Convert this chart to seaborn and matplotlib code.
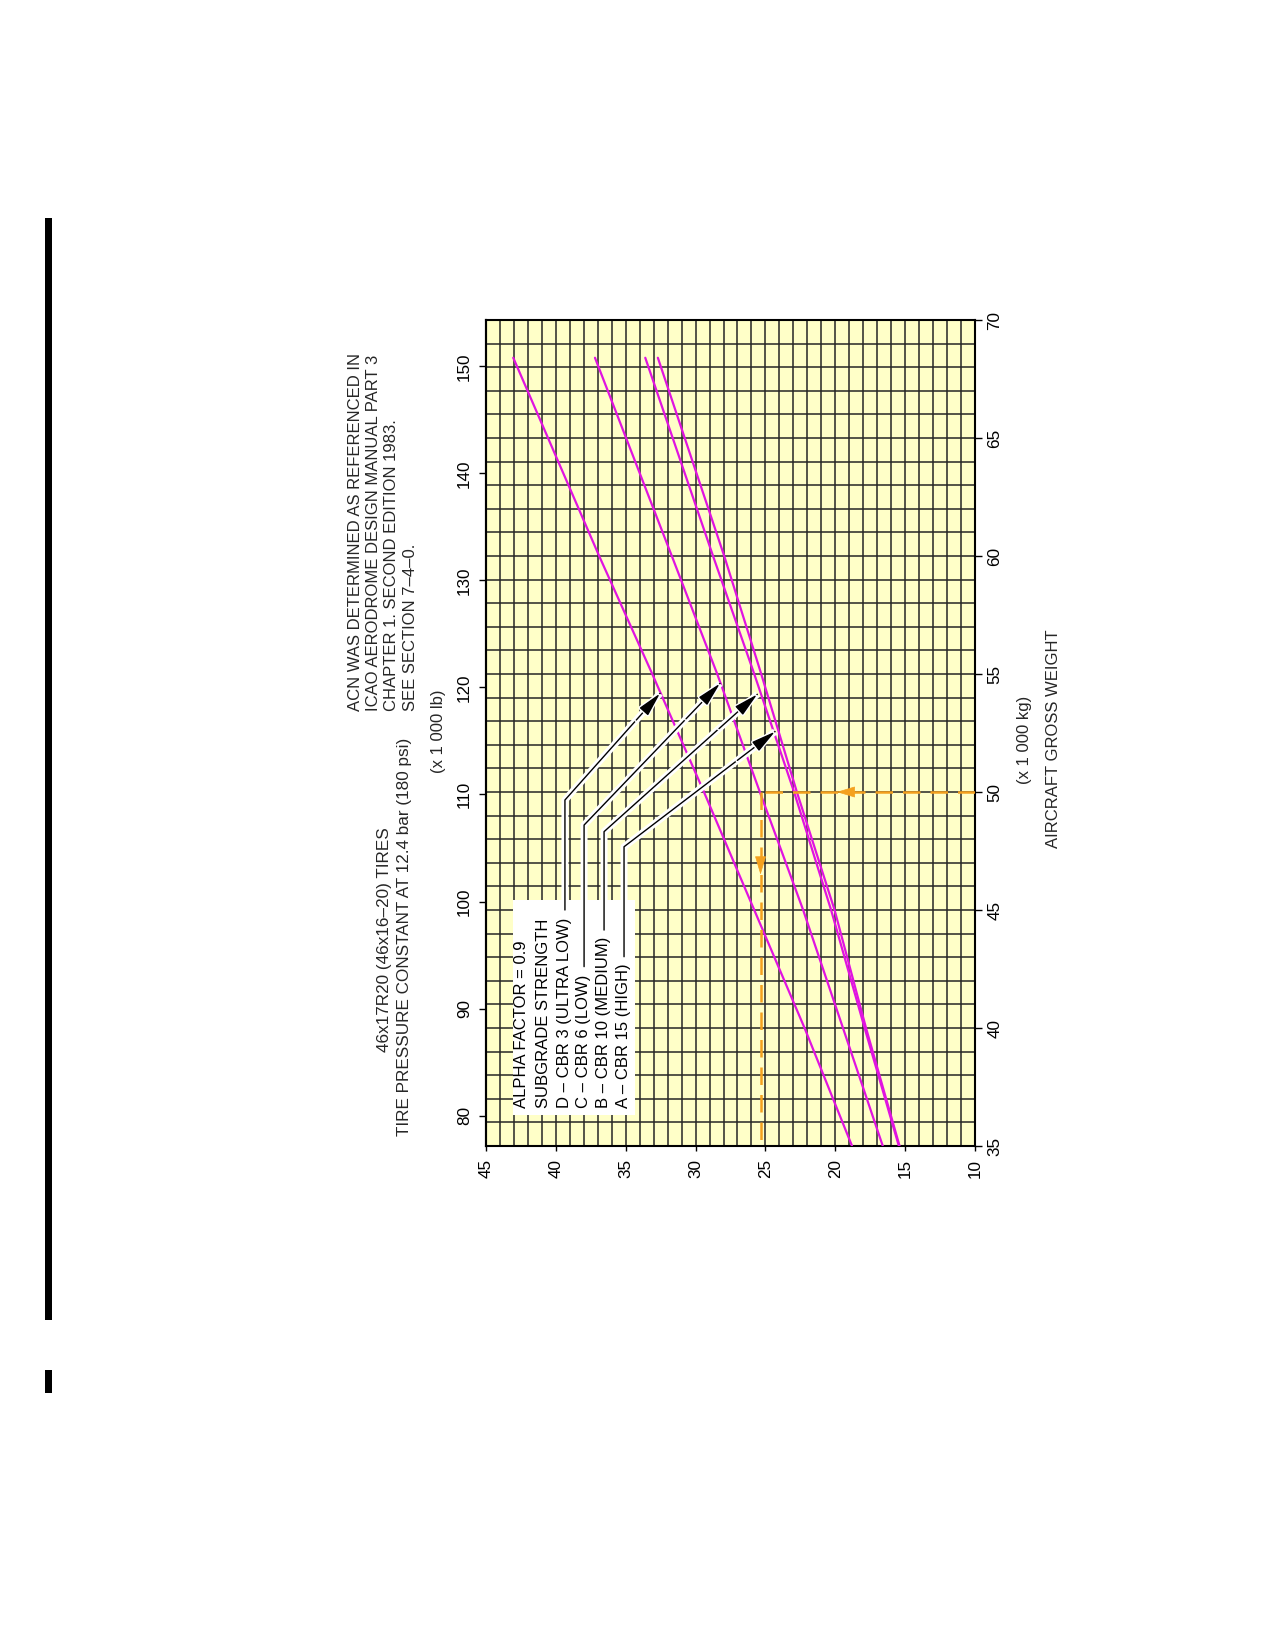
import matplotlib
matplotlib.use("Agg")
import matplotlib.pyplot as plt
import matplotlib.patheffects as pe
from matplotlib.patches import Rectangle
import numpy as np
import pandas as pd
import seaborn as sns

# ---------------- data ----------------
weight_kg = [35, 40, 45, 50, 55, 60, 68.4]          # aircraft gross weight (x 1000 kg)
acn_D = [18.8, 22.2, 25.8, 29.4, 33.1, 36.9, 43.05]  # CBR 3 (ultra low)
acn_C = [16.6, 19.45, 22.3, 25.4, 28.45, 31.7, 37.2] # CBR 6 (low)
acn_B = [15.45, 17.9, 20.3, 22.95, 25.8, 28.75, 33.6]# CBR 10 (medium)
acn_A = [15.4, 17.8, 20.05, 22.75, 25.3, 27.95, 32.7]# CBR 15 (high)
subgrades = ["D", "C", "B", "A"]

acn_ticks = [45, 40, 35, 30, 25, 20, 15, 10]
kg_ticks = [35, 40, 45, 50, 55, 60, 65, 70]
lb_ticks = [80, 90, 100, 110, 120, 130, 140, 150]

example_weight = 50      # orange example
example_acn = 25.35

label_lines = ["ALPHA FACTOR = 0.9", "SUBGRADE STRENGTH",
               "D \u2013 CBR 3 (ULTRA LOW)", "C \u2013 CBR 6 (LOW)",
               "B \u2013 CBR 10 (MEDIUM)", "A \u2013 CBR 15 (HIGH)"]
note_lines = ["ACN WAS DETERMINED AS REFERENCED IN",
              "ICAO AERODROME DESIGN MANUAL PART 3",
              "CHAPTER 1. SECOND EDITION 1983.",
              "SEE SECTION 7\u20134\u20130."]

rows = []
for name, vals in zip(subgrades, [acn_D, acn_C, acn_B, acn_A]):
    for w, a in zip(weight_kg, vals):
        rows.append({"Subgrade": name, "ACN": a, "Weight": w})
df = pd.DataFrame(rows)

# ---------------- style ----------------
sns.set_style("white")
plt.rcParams["font.family"] = ["Liberation Sans", "DejaVu Sans"]

W, H = 1275, 1645
fig = plt.figure(figsize=(W / 100, H / 100), dpi=100)
fig.patch.set_facecolor("white")

def fx(x):
    return x / W

def fy(y):
    return 1 - y / H

ax = fig.add_axes([fx(486), fy(1146), 489 / W, 826 / H])
ax.set_facecolor("#FFFFC8")

MAG = "#E014E0"
sns.lineplot(data=df, x="ACN", y="Weight", hue="Subgrade",
             palette=[MAG] * 4, estimator=None, sort=False, legend=False,
             linewidth=1.6, ax=ax, zorder=3)

ax.set_xlim(45, 10)
ax.set_ylim(35, 70)
ax.set_xlabel("")
ax.set_ylabel("")

ax.set_xticks(acn_ticks)
ax.set_xticks(np.arange(10, 46, 1), minor=True)
ax.set_yticks(kg_ticks)
ax.set_yticks(np.arange(35, 71, 1), minor=True)
ax.grid(which="both", color="#262626", linewidth=1.1, zorder=1)
ax.set_axisbelow(True)
ax.tick_params(which="minor", length=0)
ax.yaxis.tick_right()
ax.tick_params(axis="y", which="major", direction="out", length=5, width=1,
               pad=4, labelsize=12.3, labelrotation=90, colors="black",
               left=False, right=True)
ax.tick_params(axis="x", which="major", direction="out", length=3.6, width=1,
               pad=6, labelsize=12.3, labelrotation=90, colors="black",
               bottom=True)
plt.setp(ax.get_yticklabels(), va="center")
for s in ax.spines.values():
    s.set_color("black")
    s.set_linewidth(1.5)

sec = ax.secondary_yaxis("left", functions=(lambda t: t * 2.20462,
                                            lambda k: k / 2.20462))
sec.set_yticks(lb_ticks)
sec.tick_params(axis="y", direction="out", length=5, width=1, pad=5,
                labelsize=12.3, labelrotation=90, colors="black")
plt.setp(sec.get_yticklabels(), va="center")
sec.spines["left"].set_color("black")
sec.spines["left"].set_linewidth(1.5)

# orange example
ORG = "#F4A11E"
ax.plot([10, example_acn], [example_weight, example_weight], color=ORG,
        lw=1.8, dashes=(7, 4), zorder=4)
ax.plot([example_acn, example_acn], [example_weight, 35], color=ORG,
        lw=1.8, dashes=(7, 4), zorder=4)
ax.annotate("", xy=(19.9, example_weight), xytext=(18.7, example_weight),
            arrowprops=dict(arrowstyle="-|>,head_length=1.2,head_width=0.36",
                            color=ORG, lw=0.5, shrinkA=0, shrinkB=0), zorder=5)
ax.annotate("", xy=(example_acn, 46.5), xytext=(example_acn, 47.25),
            arrowprops=dict(arrowstyle="-|>,head_length=1.2,head_width=0.36",
                            color=ORG, lw=0.5, shrinkA=0, shrinkB=0), zorder=5)

# label box
ax.add_patch(Rectangle((34.33, 36.31), 43.05 - 34.33, 45.42 - 36.31,
                       facecolor="white", edgecolor="none", zorder=4))

# leader arrows: (start of vertical, corner, tip) in data coords
leaders = [
    ((39.35, 45.0), (39.35, 49.66), (32.54, 54.18)),
    ((37.98, 42.6), (37.98, 48.6), (28.25, 54.6)),
    ((36.55, 44.15), (36.55, 48.32), (25.58, 54.14)),
    ((35.12, 43.02), (35.12, 47.68), (24.31, 52.56)),
]
for st, co, tip in leaders:
    xs = [st[0], co[0], tip[0]]
    ys = [st[1], co[1], tip[1]]
    ax.plot(xs, ys, color="white", lw=5, zorder=6, solid_capstyle="butt")
for st, co, tip in leaders:
    xs = [st[0], co[0], tip[0]]
    ys = [st[1], co[1], tip[1]]
    ax.plot(xs, ys, color="black", lw=1.0, zorder=7)
    mid = (tip[0] + (co[0] - tip[0]) * 0.25, tip[1] + (co[1] - tip[1]) * 0.25)
    ann = ax.annotate("", xy=tip, xytext=mid,
                      arrowprops=dict(arrowstyle="-|>,head_length=1.5,head_width=0.35",
                                      color="black", lw=1.0, shrinkA=0, shrinkB=0),
                      zorder=8)
    ann.arrow_patch.set_path_effects([pe.Stroke(linewidth=3, foreground="white"),
                                      pe.Normal()])

# box text
box_x = [521, 543.5, 564, 583.5, 603.5, 623.5]
for x, t in zip(box_x, label_lines):
    fig.text(fx(x), fy(1108), t, rotation=90, ha="center", va="bottom",
             fontsize=12, color="black", zorder=10)

# titles
fig.text(fx(385), fy(940), "46x17R20 (46x16\u201320) TIRES", rotation=90,
         ha="center", va="center", fontsize=12.3)
fig.text(fx(405), fy(937), "TIRE PRESSURE CONSTANT AT 12.4 bar (180 psi)",
         rotation=90, ha="center", va="center", fontsize=12.3)
fig.text(fx(438), fy(731), "(x 1 000 lb)", rotation=90, ha="center",
         va="center", fontsize=12)
for x, t in zip([355, 373.5, 392, 410.5], note_lines):
    fig.text(fx(x), fy(711), t, rotation=90, ha="center", va="bottom",
             fontsize=12)
fig.text(fx(1025), fy(740), "(x 1 000 kg)", rotation=90, ha="center",
         va="center", fontsize=12)
fig.text(fx(1053), fy(739), "AIRCRAFT GROSS WEIGHT", rotation=90,
         ha="center", va="center", fontsize=12)

# page edge bars
fig.add_artist(Rectangle((fx(45), fy(1320)), 6.5 / W, (1320 - 218) / H,
                         transform=fig.transFigure, facecolor="black",
                         edgecolor="none"))
fig.add_artist(Rectangle((fx(45), fy(1393)), 6.5 / W, (1393 - 1370) / H,
                         transform=fig.transFigure, facecolor="black",
                         edgecolor="none"))

fig.savefig("out.png", dpi=100, facecolor="white")
